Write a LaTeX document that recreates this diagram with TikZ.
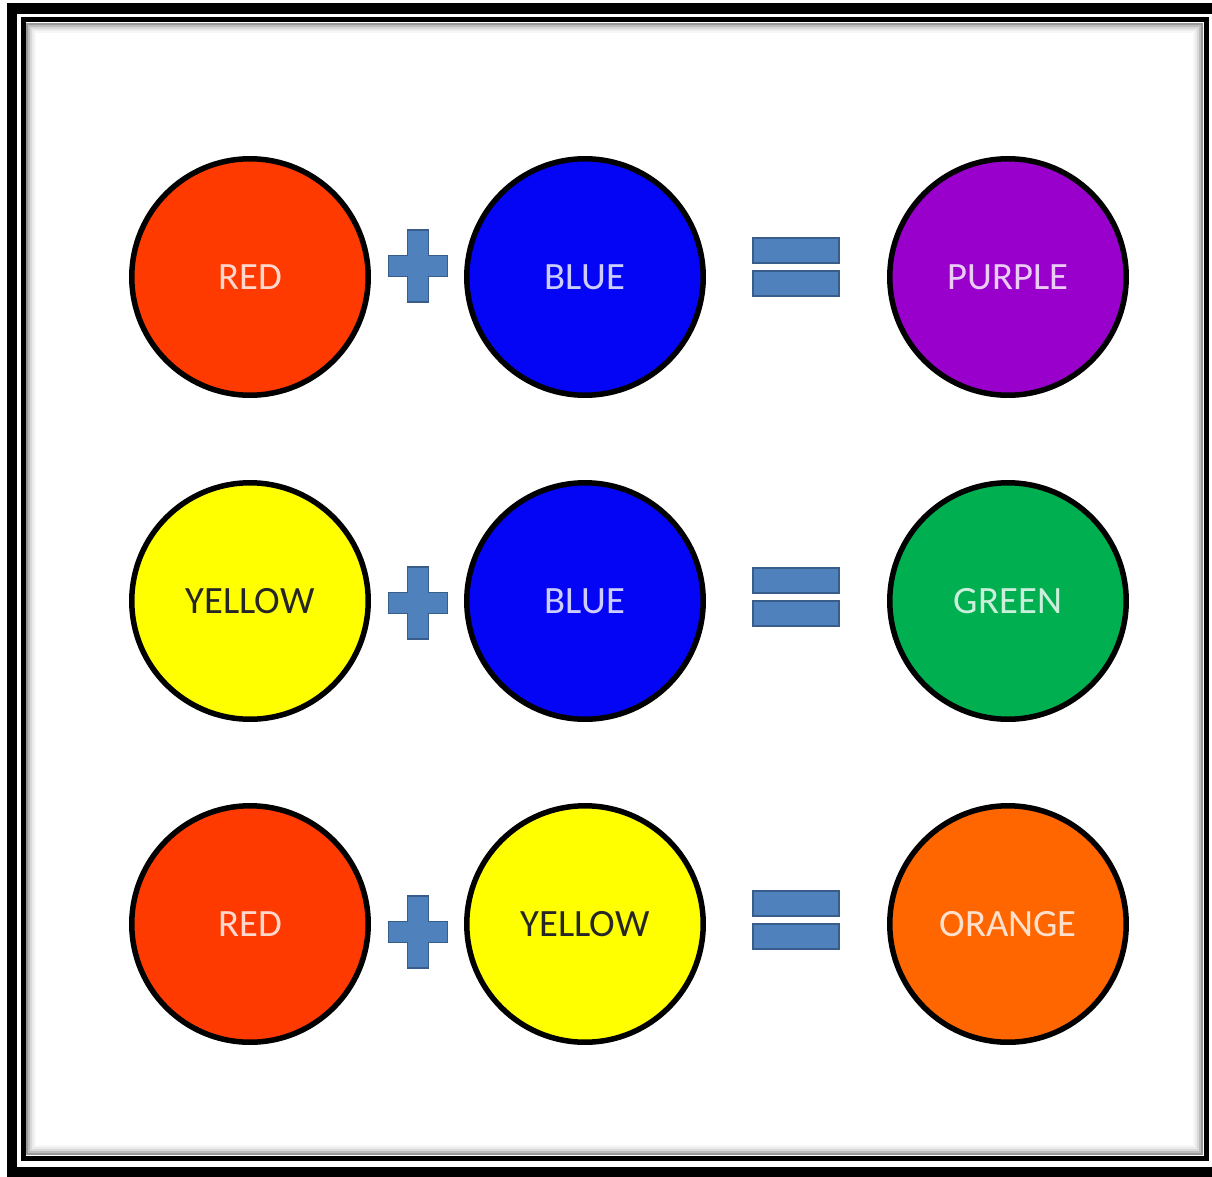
\documentclass[tikz,border=0pt]{standalone}
\usepackage{fontspec}
\setmainfont{Carlito}
\definecolor{redpaint}{RGB}{255,58,0}
\definecolor{bluepaint}{RGB}{5,5,245}
\definecolor{purplepaint}{RGB}{153,0,204}
\definecolor{yellowpaint}{RGB}{255,255,0}
\definecolor{greenpaint}{RGB}{0,176,80}
\definecolor{orangepaint}{RGB}{255,102,0}
\definecolor{signfill}{RGB}{79,129,189}
\definecolor{signedge}{RGB}{56,93,138}
\tikzset{
  paint/.style={circle, draw=black, line width=0.11cm, minimum size=4.73cm, inner sep=0pt,
    fill=#1, text=white!80!#1, font=\fontsize{22}{26}\selectfont},
  darktext/.style={text=black!85},
  sign/.style={fill=signfill, draw=signedge, line width=0.8pt},
  plussign/.pic={
    \draw[sign] (-10.5,-36) -- (10.5,-36) -- (10.5,-10.5) -- (29.5,-10.5) -- (29.5,10.5)
      -- (10.5,10.5) -- (10.5,36) -- (-10.5,36) -- (-10.5,10.5) -- (-29.5,10.5)
      -- (-29.5,-10.5) -- (-10.5,-10.5) -- cycle;
  },
  equalsign/.pic={
    \draw[sign] (-43,-29) rectangle (43,-4);
    \draw[sign] (-43,4) rectangle (43,29);
  }
}
\begin{document}
\begin{tikzpicture}[x=0.02cm, y=-0.02cm]
      \useasboundingbox (0,0) rectangle (1212,1176);
      \fill[white] (0,0) rectangle (1212,1176);
      % frame
      \draw[line width=0.22cm] (12,8.5) rectangle (1218,1172);
      \foreach \s/\g in {4/40,6/26,8/15,10/8,12/3}
        \draw[line width=0.045cm, black!\g] (23+\s,20+\s) rectangle (1206-\s,1158-\s);
      \draw[line width=0.1cm] (23,20) rectangle (1206,1158);
      % red + blue = purple
      \node[paint=redpaint] (red1) at (250,277) {RED};
      \node[paint=bluepaint] (blue1) at (585,277) {BLUE};
      \node[paint=purplepaint] (purple1) at (1008,277) {PURPLE};
      \pic at (418,266) {plussign};
      \pic at (796,267) {equalsign};
      % yellow + blue = green
      \node[paint=yellowpaint, darktext] (yellow2) at (250,601) {YELLOW};
      \node[paint=bluepaint] (blue2) at (585,601) {BLUE};
      \node[paint=greenpaint] (green2) at (1008,601) {GREEN};
      \pic at (418,603) {plussign};
      \pic at (796,597) {equalsign};
      % red + yellow = orange
      \node[paint=redpaint] (red3) at (250,924) {RED};
      \node[paint=yellowpaint, darktext] (yellow3) at (585,924) {YELLOW};
      \node[paint=orangepaint] (orange3) at (1008,924) {ORANGE};
      \pic at (418,932) {plussign};
      \pic at (796,920) {equalsign};
\end{tikzpicture}
\end{document}
